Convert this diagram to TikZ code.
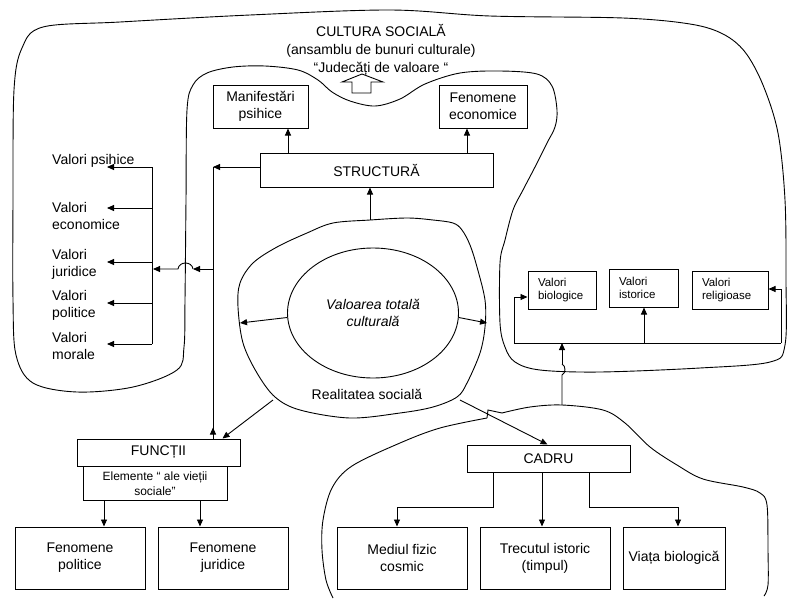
\documentclass[tikz,border=0pt]{standalone}
\usepackage{fontspec}
\setmainfont{Liberation Sans}
\usetikzlibrary{arrows.meta,shapes.geometric,calc}
\newcommand\fmain{\fontsize{14}{17}\selectfont}
\newcommand\fsmall{\fontsize{11.5}{13.5}\selectfont}
\newcommand\fel{\fontsize{12}{15}\selectfont}
\begin{document}
\begin{tikzpicture}[x=1pt,y=-1pt,
  ln/.style={line width=0.9pt},
  tri/.style={-{Triangle[length=7pt,width=6pt]}},
  box/.style={draw,line width=1pt,inner sep=0pt,align=center,font=\fmain},
  vbox/.style={draw,line width=1pt,inner xsep=10pt,inner ysep=0pt,align=left,font=\fsmall},
  txt/.style={inner sep=0pt,align=left,font=\fmain,anchor=west}]
\useasboundingbox (0,0) rectangle (788,598);

% ---- Cultura sociala region
\draw[ln] plot[smooth cycle, tension=0.55] coordinates {(14,90) (22,48) (43,27) (120,22) (250,15) (390,10) (490,16) (623,18) (690,24) (723,34) (745,52) (763,85) (778,133) (785,200) (786,280) (785,345) (770,362) (700,368) (600,372) (540,370) (515,362) (505,347) (500,323) (500,263) (505,240) (513,210) (523,190) (535,167) (547,143) (555,127) (557,110) (552,86) (537,74) (500,71) (460,73) (425,84) (400,99) (375,106) (350,101) (332,92) (318,80) (298,70) (265,66) (233,67) (207,73) (193,85) (187,110) (186,200) (185,300) (184,347) (177,370) (133,387) (77,392) (33,383) (16,355) (13,300) (13,200)};

% ---- Cadru region
\draw[ln] plot[smooth, tension=0.55] coordinates {(333,598) (326,580) (322,550) (323,520) (332,488) (352,466) (400,443) (440,428) (487,418)};
\draw[ln] (487,418) -- (488,410) -- (502,413);
\draw[ln] plot[smooth, tension=0.55] coordinates {(502,413) (530,407) (562,405) (603,410) (625,423) (650,447) (677,465) (703,479) (743,487) (760,493) (767,505) (768,550) (768,585) (764,596)};

% ---- Realitatea sociala region
\draw[ln] plot[smooth cycle, tension=0.55] coordinates {(370,220) (407,218) (433,220) (453,223) (462,230) (470,245) (477,267) (485,300) (485,327) (480,353) (467,383) (457,397) (433,407) (400,413) (350,418) (300,410) (275,397) (257,373) (243,343) (238,307) (240,283) (253,263) (277,247) (307,233) (333,223)};

% ---- titles
\node[inner sep=0pt,align=center,font=\fontsize{14}{18}\selectfont] (title) at (381,50) {CULTURA SOCIALĂ\\(ansamblu de bunuri culturale)\\“Judecăți de valoare “};
\draw[line width=0.9pt] (352,93) -- (352,82) -- (342,82) -- (362,74) -- (383,82) -- (371,82) -- (371,93) -- cycle;

% ---- boxes
\node[box,minimum width=95pt,minimum height=43pt] (manif) at (260.5,106.5) {Manifestări\\psihice};
\node[box,minimum width=88pt,minimum height=43pt] (fecon) at (483,106.5) {Fenomene\\economice};
\node[box,minimum width=233pt,minimum height=34pt] (struct) at (376.5,170) {STRUCTURĂ};
\node[draw,ellipse,line width=0.9pt,minimum width=171pt,minimum height=130pt,inner sep=0pt,align=center,font=\fmain\itshape] (ell) at (373,313) {Valoarea totală\\culturală};
\node[inner sep=0pt,font=\fmain] (real) at (367,394) {Realitatea socială};

\node[box,minimum width=163pt,minimum height=27pt] (funct) at (158.5,452.5) {FUNCȚII};
\node[box,minimum width=144pt,minimum height=34pt,font=\fel,anchor=north] (elem) at (155,466) {\raisebox{8pt}{\parbox[t]{140pt}{\centering Elemente “ ale vieții\\sociale”}}};
\node[box,minimum width=130pt,minimum height=62pt] (fpol) at (80,558) {Fenomene\\politice};
\node[box,minimum width=130pt,minimum height=62pt] (fjur) at (223,558) {\raisebox{-6pt}{\parbox{120pt}{\centering Fenomene\\juridice}}};

\node[box,minimum width=163pt,minimum height=27pt] (cadru) at (548.5,458.5) {CADRU};
\node[box,minimum width=130pt,minimum height=62pt] (mediu) at (402,558) {Mediul fizic\\cosmic};
\node[box,minimum width=130pt,minimum height=62pt] (trec) at (545,558) {Trecutul istoric\\(timpul)};
\node[box,minimum width=102pt,minimum height=62pt] (viata) at (674,558) {\raisebox{-5pt}{Viața biologică}};

\node[vbox,text width=48pt,minimum height=38pt] (vbio) at (562,290) {Valori\\biologice};
\node[vbox,text width=49pt,minimum height=38pt] (vist) at (643.5,288) {Valori\\istorice};
\node[vbox,text width=56pt,minimum height=38pt] (vrel) at (730,290) {Valori\\religioase};

% ---- left column of values
\node[txt] (vps) at (52,161) {Valori psihice};
\node[txt] (vec) at (52,216) {Valori\\economice};
\node[txt] (vju) at (52,264) {Valori\\juridice};
\node[txt] (vpo) at (52,305) {Valori\\politice};
\node[txt] (vmo) at (52,346) {Valori\\morale};

\coordinate (tL) at (107,0);
\coordinate (a1) at (152,167);
\coordinate (a2) at (152,208);
\coordinate (a3) at (152,262);
\coordinate (a4) at (152,303);
\coordinate (a5) at (152,344);
\draw[ln] (a1) -- (a5);
\foreach \p in {a1,a2,a3,a4,a5} {\draw[ln,tri] (\p) -- (\p -| tL);}

% ---- connectors around STRUCTURA
\coordinate (rt) at (370,220);
\coordinate (mx) at (288,0);
\coordinate (ex) at (467,0);
\draw[ln,tri] (rt) -- (struct.south -| rt);
\draw[ln,tri] (struct.north -| mx) -- (manif.south -| mx);
\draw[ln,tri] (struct.north -| ex) -- (fecon.south -| ex);

\coordinate (ja) at (213,167);
\coordinate (jb) at (213,269);
\coordinate (h1) at (193,269);
\coordinate (h2) at (178,269);
\coordinate (jc) at (153,269);
\draw[ln,tri] (struct.west |- ja) -- (ja);
\draw[ln] (ja) -- (funct.north -| ja);
\draw[ln,tri] ($(funct.north -| ja)+(0,-2)$) -- ($(funct.north -| ja)+(0,-11)$);
\draw[ln,tri] (jb) -- (h1);
\draw[ln,tri] (h1) .. controls (192,261) and (179,261) .. (h2) -- (jc);

% ---- ellipse arrows
\coordinate (rl) at (240,323);
\coordinate (rr) at (487,323);
\draw[ln,tri] (ell.183) -- (rl);
\draw[ln,tri] (ell.-3) -- (rr);

% ---- from social reality to functions and frame
\coordinate (rbl) at (273,400);
\coordinate (rbr) at (460,400);
\draw[ln,tri] (rbl) -- ($(funct.north)+(64,0)$);
\draw[ln,tri] (rbr) -- ($(cadru.north)+(-1,0)$);

% ---- functions to phenomena
\coordinate (fx1) at (104,0);
\coordinate (fx2) at (200,0);
\draw[ln,tri] (elem.south -| fx1) -- (fpol.north -| fx1);
\draw[ln,tri] (elem.south -| fx2) -- (fjur.north -| fx2);

% ---- cadru branches
\coordinate (c1) at (493,507);
\coordinate (c2) at (542,0);
\coordinate (c3) at (589,507);
\coordinate (d1) at (397,507);
\coordinate (d3) at (678,507);
\draw[ln,tri] (cadru.south -| c1) -- (c1) -- (d1) -- (mediu.north -| d1);
\draw[ln,tri] (cadru.south -| c2) -- (trec.north -| c2);
\draw[ln,tri] (cadru.south -| c3) -- (c3) -- (d3) -- (viata.north -| d3);

% ---- values of the frame
\coordinate (b0) at (562,405);
\coordinate (bh) at (562,343);
\coordinate (bl) at (514,343);
\coordinate (br) at (781,343);
\coordinate (blu) at (514,297);
\coordinate (bru) at (781,289);
\coordinate (bm) at (644,343);
\draw[ln] (b0) -- (562,375) .. controls (566,373) and (566,366) .. (562,364);
\draw[ln,tri] (562,364) -- (bh);
\draw[ln] (bl) -- (br);
\draw[ln,tri] (bl) -- (blu) -- (vbio.west |- blu);
\draw[ln,tri] (br) -- (bru) -- (vrel.east |- bru);
\draw[ln,tri] (bm) -- (vist.south -| bm);
\end{tikzpicture}
\end{document}
